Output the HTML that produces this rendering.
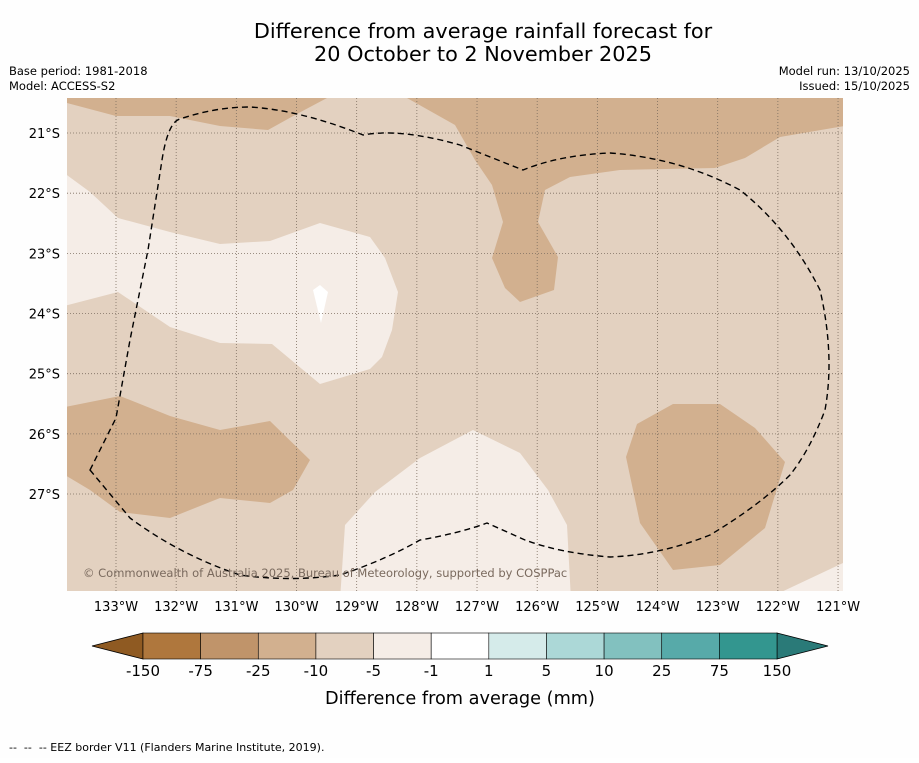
<!DOCTYPE html>
<html><head><meta charset="utf-8"><style>
body{margin:0;background:#fff;font-family:"Liberation Sans","DejaVu Sans",sans-serif;}
svg text{font-family:"DejaVu Sans","Liberation Sans",sans-serif;}
</style></head><body>
<svg width="919" height="758" viewBox="0 0 919 758" xmlns="http://www.w3.org/2000/svg">
<rect width="919" height="758" fill="#fefefe"/>
<text x="483" y="38" font-size="20.8" text-anchor="middle">Difference from average rainfall forecast for</text>
<text x="483" y="61" font-size="20.8" text-anchor="middle">20 October to 2 November 2025</text>
<text x="9" y="75" font-size="11.5">Base period: 1981-2018</text>
<text x="9" y="90" font-size="11.5">Model: ACCESS-S2</text>
<text x="910" y="75" font-size="11.5" text-anchor="end">Model run: 13/10/2025</text>
<text x="910" y="90" font-size="11.5" text-anchor="end">Issued: 15/10/2025</text>
<defs><clipPath id="mc"><rect x="67" y="98" width="776" height="493"/></clipPath></defs>
<g clip-path="url(#mc)">
<rect x="67" y="98" width="776" height="493" fill="#e3d1c0"/>
<polygon fill="#d2b08f" points="60,98 327,98 295,115 268,130 220,126 170,116 116,116 67,103"/>
<polygon fill="#d2b08f" points="407,98 850,98 850,125 780,137 745,158 715,168 620,170 570,177 545,190 538,222 558,257 554,290 520,302 505,288 492,258 503,222 492,185 475,160 455,125"/>
<polygon fill="#d2b08f" points="60,408 120,396 170,416 220,430 270,421 310,460 293,490 270,503 220,498 170,518 120,512 90,490 60,472"/>
<polygon fill="#d2b08f" points="673,404 720,404 755,428 785,462 765,528 720,565 673,570 640,523 626,457 637,424"/>
<polygon fill="#f5ede7" points="60,170 90,192 118,218 170,232 220,244 270,241 320,223 370,237 385,258 398,292 392,330 382,357 370,369 320,384 272,344 220,343 170,327 118,292 60,307"/>
<polygon fill="#ffffff" points="313,290 320,285 328,292 321,323"/>
<polygon fill="#f5ede7" points="340,600 345,525 375,492 420,458 473,430 520,453 548,490 567,525 571,600"/>
<polygon fill="#f5ede7" points="775,595 843,563 850,563 850,595"/>
<g id="grid" stroke="#7d6e60" stroke-width="0.8" stroke-dasharray="1,2"></g>
<path fill="none" stroke="#000" stroke-width="1.4" stroke-dasharray="6,4" d="M90,470 L116,418 L130,340 L148,250 L162,160 Q168,122 180,119 Q215,107 250,107 Q300,110 363,135 Q400,128 460,145 L523,170 Q560,155 610,153 Q680,158 740,190 Q790,230 820,290 Q835,355 825,410 Q810,450 790,475 Q760,505 710,535 Q660,555 610,557 Q560,553 525,540 L487,523 Q460,533 420,540 Q385,560 340,575 Q290,582 240,575 Q180,555 130,518 Z"/>
<text x="83" y="577" font-size="11.5" fill="#7a6a5e">© Commonwealth of Australia 2025, Bureau of Meteorology, supported by COSPPac</text>
</g>
<g id="axes" font-size="13"></g>
<g id="cbar"></g>
<text x="460" y="704" font-size="17.7" text-anchor="middle">Difference from average (mm)</text>
<text x="9" y="751" font-size="11" xml:space="preserve">--  --  -- EEZ border V11 (Flanders Marine Institute, 2019).</text>
</svg>
<script>
const lonTicks=[133,132,131,130,129,128,127,126,125,124,123,122,121];
const latTicks=[21,22,23,24,25,26,27];
const cbarLabels=['-150','-75','-25','-10','-5','-1','1','5','10','25','75','150'];
const cbarColors=['#af773d','#c0946a','#d2b08f','#e3d1c0','#f5ede7','#ffffff','#d5ebea','#acd8d7','#82c1bf','#57aaa9','#33968f'];
const NS='http://www.w3.org/2000/svg';
function xLon(l){return 116+(133-l)*60.17;}
function yLat(l){return 133+(l-21)*60.17;}
const grid=document.getElementById('grid'),axes=document.getElementById('axes'),cb=document.getElementById('cbar');
function mk(t,a,p){const e=document.createElementNS(NS,t);for(const k in a)e.setAttribute(k,a[k]);p.appendChild(e);return e;}
lonTicks.forEach(l=>{const x=xLon(l);
 const g=mk('line',{x1:x,x2:x,y1:98,y2:591},grid);
 
 
 const t=mk('text',{x:x,y:611,'text-anchor':'middle'},axes);t.textContent=l+'°W';
 
 });
latTicks.forEach(l=>{const y=yLat(l);
 const g=mk('line',{x1:67,x2:843,y1:y,y2:y},grid);
 
 
 const t=mk('text',{x:60,y:y+5,'text-anchor':'end'},axes);t.textContent=l+'°S';
 
 });
const cx0=143,cw=(777-143)/cbarColors.length;
const tl=mk('polygon',{points:'92,646 143,633 143,659',fill:'#8f5a22',stroke:'#000','stroke-width':0.8},cb);


const tr=mk('polygon',{points:'828,646 777,633 777,659',fill:'#2a7a78',stroke:'#000','stroke-width':0.8},cb);


cbarColors.forEach((c,i)=>{const r=mk('rect',{x:cx0+i*cw,y:633,width:cw,height:26,fill:c,stroke:'#000','stroke-width':0.6},cb);
 
 });
cbarLabels.forEach((s,i)=>{const t=mk('text',{x:cx0+i*cw,y:676,'text-anchor':'middle','font-size':15},cb);t.textContent=s;
 
 });
</script>
</body></html>
